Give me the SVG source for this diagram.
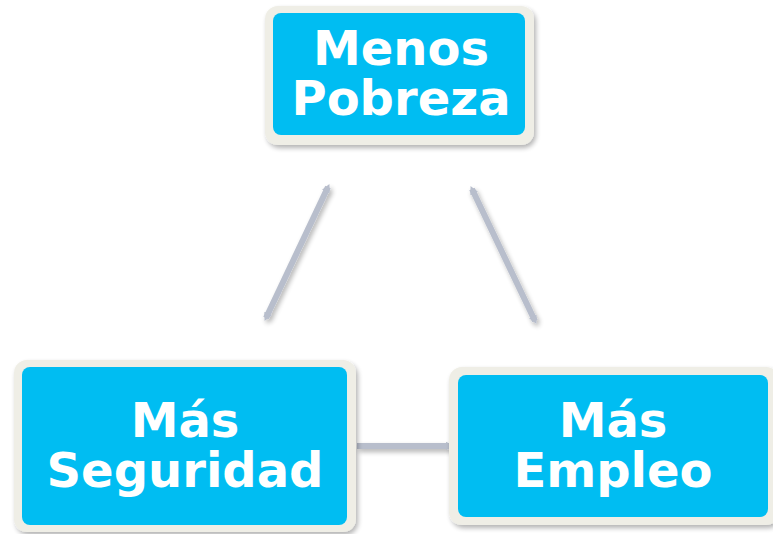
<svg xmlns="http://www.w3.org/2000/svg" width="773" height="534" viewBox="0 0 773 534">
<defs>
<filter id="sh" x="-10%" y="-10%" width="130%" height="130%">
<feGaussianBlur in="SourceAlpha" stdDeviation="2.5"/>
<feOffset dx="2" dy="3" result="b"/>
<feComponentTransfer><feFuncA type="linear" slope="0.3"/></feComponentTransfer>
<feMerge><feMergeNode/><feMergeNode in="SourceGraphic"/></feMerge>
</filter>
<marker id="ah" viewBox="0 0 10 10" refX="6" refY="5" markerWidth="1.4" markerHeight="1.4" orient="auto-start-reverse" markerUnits="strokeWidth">
<path d="M0,0 L10,5 L0,10 z" fill="#B8BECC"/>
</marker>
</defs>
<style>
.frame{fill:#EFEEE6;}
.box{fill:#00BDF2;}
.t{font-family:"DejaVu Sans",Verdana,sans-serif;font-weight:bold;font-size:48px;fill:#FFFFFF;text-anchor:middle;}
.c{stroke:#B8BECC;stroke-width:6;fill:none;}
.bi{marker-start:url(#ah);marker-end:url(#ah);}
.uni{marker-end:url(#ah);}
</style>
<g id="connectors" filter="url(#sh)">
<line class="c bi" x1="328" y1="187" x2="266" y2="318"/>
<line class="c bi" x1="472" y1="189" x2="535" y2="321"/>
<line class="c uni" x1="357" y1="446" x2="451" y2="446"/>
</g>
<g id="menos-pobreza">
<rect class="frame" x="265" y="6" width="269" height="139" rx="13" filter="url(#sh)"/>
<rect class="box" x="273" y="13" width="252" height="122" rx="8"/>
<text class="t" x="401" y="65">Menos</text>
<text class="t" x="401" y="115">Pobreza</text>
</g>
<g id="mas-seguridad">
<rect class="frame" x="14" y="360" width="342" height="172" rx="13" filter="url(#sh)"/>
<rect class="box" x="22" y="367" width="325" height="158" rx="8"/>
<text class="t" x="185" y="437">Más</text>
<text class="t" x="185" y="487">Seguridad</text>
</g>
<g id="mas-empleo">
<rect class="frame" x="449" y="367" width="330" height="158" rx="13" filter="url(#sh)"/>
<rect class="box" x="458" y="375" width="310" height="142" rx="8"/>
<text class="t" x="613" y="437">Más</text>
<text class="t" x="613" y="487">Empleo</text>
</g>
</svg>
